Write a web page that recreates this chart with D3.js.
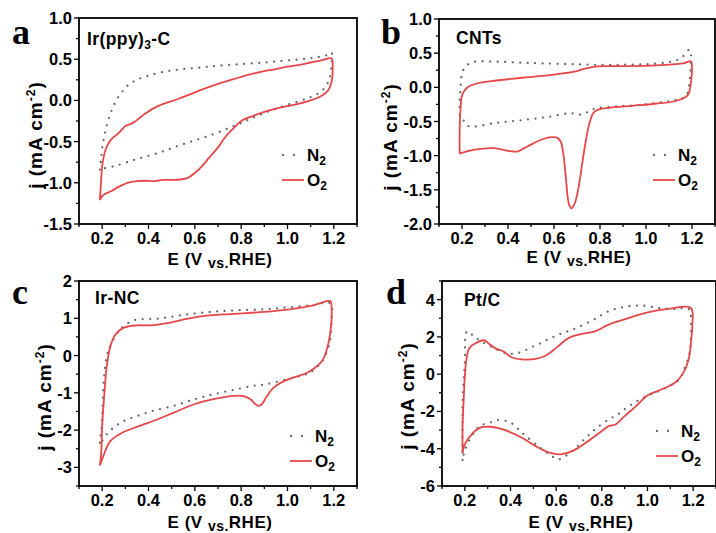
<!DOCTYPE html>
<html><head><meta charset="utf-8">
<script src="https://cdn.jsdelivr.net/npm/d3@7"></script>
<style>body{margin:0;background:#fff}svg{display:block}</style>
</head><body><svg id="c" width="716" height="533"></svg>
<script>
// ---------- data (E in V vs RHE, j in mA cm^-2) ----------
const panelLetters = ["a","b","c","d"];
const panelTitles = ["Ir(ppy)3-C","CNTs","Ir-NC","Pt/C"];
const seriesNames = ["N2","O2"];
const xTicks = [0.2,0.4,0.6,0.8,1.0,1.2];
const yTicksA = [-1.5,-1.0,-0.5,0.0,0.5,1.0];
const yTicksB = [-2.0,-1.5,-1.0,-0.5,0.0,0.5,1.0];
const yTicksC = [-3,-2,-1,0,1,2];
const yTicksD = [-6,-4,-2,0,2,4];

// panel a
const aN2E = [0.19,0.195,0.20,0.21,0.225,0.25,0.28,0.31,0.35,0.40,0.47,0.55,0.63,0.70,0.80,0.90,0.98,1.06,1.12,1.17,1.19,1.19,1.18,1.15,1.10,1.06,0.96,0.86,0.77,0.66,0.54,0.44,0.34,0.25,0.20,0.19];
const aN2J = [-0.84,-0.72,-0.58,-0.42,-0.25,-0.06,0.08,0.18,0.25,0.30,0.35,0.38,0.40,0.42,0.44,0.46,0.48,0.50,0.52,0.55,0.58,0.45,0.25,0.12,0.04,0.00,-0.09,-0.20,-0.31,-0.43,-0.54,-0.64,-0.72,-0.80,-0.83,-0.84];
const aO2E = [0.19,0.195,0.20,0.21,0.22,0.24,0.27,0.30,0.31,0.335,0.38,0.44,0.53,0.63,0.70,0.77,0.83,0.89,0.95,1.00,1.05,1.10,1.15,1.19,1.195,1.19,1.175,1.15,1.10,1.05,1.00,0.95,0.90,0.85,0.80,0.77,0.73,0.70,0.66,0.63,0.60,0.57,0.54,0.50,0.46,0.42,0.39,0.35,0.31,0.27,0.24,0.21,0.195,0.19];
const aO2J = [-1.21,-1.00,-0.80,-0.64,-0.56,-0.47,-0.40,-0.31,-0.30,-0.27,-0.17,-0.07,0.02,0.13,0.20,0.26,0.31,0.35,0.38,0.41,0.43,0.46,0.49,0.51,0.40,0.22,0.12,0.06,0.00,-0.04,-0.07,-0.10,-0.14,-0.19,-0.25,-0.33,-0.45,-0.57,-0.70,-0.80,-0.88,-0.94,-0.96,-0.965,-0.965,-0.98,-0.975,-0.98,-1.00,-1.05,-1.10,-1.14,-1.18,-1.21];

// panel b
const bN2E = [0.19,0.19,0.195,0.20,0.215,0.25,0.35,0.46,0.55,0.67,0.78,0.90,1.01,1.10,1.15,1.19,1.19,1.18,1.17,1.12,1.04,0.97,0.87,0.78,0.74,0.72,0.67,0.58,0.46,0.35,0.23,0.21,0.19];
const bN2J = [-0.40,-0.19,0.05,0.20,0.30,0.37,0.375,0.36,0.35,0.34,0.33,0.33,0.34,0.37,0.42,0.55,0.10,-0.09,-0.14,-0.19,-0.23,-0.26,-0.28,-0.31,-0.37,-0.40,-0.38,-0.43,-0.48,-0.52,-0.57,-0.50,-0.40];
const bO2E = [0.19,0.19,0.195,0.20,0.215,0.24,0.28,0.35,0.46,0.56,0.63,0.69,0.73,0.77,0.82,0.90,1.04,1.16,1.195,1.20,1.19,1.18,1.13,1.04,0.94,0.84,0.79,0.77,0.76,0.75,0.74,0.73,0.72,0.71,0.70,0.69,0.68,0.675,0.668,0.66,0.655,0.648,0.64,0.63,0.615,0.59,0.55,0.51,0.47,0.44,0.40,0.34,0.28,0.23,0.19];
const bO2J = [-0.97,-0.60,-0.25,-0.12,-0.03,0.03,0.07,0.10,0.14,0.17,0.20,0.23,0.27,0.30,0.31,0.31,0.32,0.35,0.38,0.30,-0.04,-0.12,-0.20,-0.24,-0.27,-0.30,-0.33,-0.38,-0.46,-0.58,-0.75,-0.95,-1.18,-1.40,-1.58,-1.70,-1.76,-1.77,-1.74,-1.62,-1.45,-1.20,-0.96,-0.80,-0.74,-0.73,-0.76,-0.82,-0.89,-0.94,-0.93,-0.89,-0.90,-0.93,-0.97];

// panel c
const cN2E = [0.19,0.20,0.204,0.21,0.22,0.235,0.25,0.265,0.29,0.34,0.44,0.54,0.65,0.77,0.90,1.00,1.11,1.185,1.19,1.18,1.15,1.10,1.06,1.00,0.91,0.855,0.77,0.68,0.60,0.51,0.42,0.366,0.31,0.26,0.22,0.20,0.19];
const cN2J = [-2.34,-1.70,-0.99,-0.46,-0.01,0.26,0.45,0.60,0.77,0.95,0.99,1.08,1.16,1.21,1.24,1.29,1.35,1.40,0.90,0.30,-0.15,-0.45,-0.54,-0.63,-0.77,-0.81,-0.92,-1.04,-1.17,-1.35,-1.48,-1.59,-1.71,-1.88,-2.11,-2.29,-2.34];
const cO2E = [0.19,0.196,0.20,0.21,0.22,0.236,0.258,0.294,0.35,0.41,0.48,0.57,0.65,0.77,0.90,1.00,1.10,1.185,1.19,1.185,1.17,1.15,1.12,1.085,1.03,0.98,0.94,0.91,0.89,0.876,0.86,0.84,0.81,0.77,0.68,0.60,0.51,0.44,0.365,0.29,0.236,0.20,0.19];
const cO2J = [-2.95,-2.60,-1.88,-0.99,-0.28,0.26,0.57,0.75,0.81,0.81,0.87,0.99,1.07,1.12,1.17,1.23,1.33,1.46,1.30,0.62,0.17,-0.14,-0.32,-0.46,-0.58,-0.70,-0.86,-1.10,-1.30,-1.35,-1.30,-1.17,-1.09,-1.08,-1.17,-1.30,-1.53,-1.71,-1.88,-2.06,-2.29,-2.78,-2.95];

// panel d
const dN2E = [0.19,0.19,0.19,0.19,0.195,0.20,0.21,0.236,0.27,0.32,0.367,0.42,0.51,0.60,0.67,0.76,0.83,0.90,0.975,1.05,1.12,1.18,1.19,1.185,1.16,1.14,1.10,1.05,0.98,0.92,0.87,0.83,0.77,0.73,0.67,0.61,0.57,0.53,0.45,0.40,0.35,0.31,0.265,0.23,0.20,0.19];
const dN2J = [-4.6,-3.5,-2.6,-1.5,-0.4,0.6,2.3,2.07,1.77,1.45,1.18,1.10,1.54,2.07,2.39,2.89,3.38,3.61,3.68,3.55,3.50,3.50,2.30,1.14,0.25,-0.29,-0.60,-0.91,-1.27,-1.71,-2.16,-2.43,-2.96,-3.41,-4.12,-4.57,-4.30,-3.95,-3.14,-2.60,-2.46,-2.60,-2.79,-3.32,-4.10,-4.60];
const dO2E = [0.19,0.19,0.195,0.20,0.207,0.22,0.25,0.284,0.31,0.338,0.367,0.41,0.45,0.51,0.555,0.60,0.656,0.714,0.77,0.83,0.92,1.00,1.09,1.19,1.196,1.19,1.18,1.157,1.12,1.06,1.00,0.95,0.90,0.86,0.83,0.79,0.73,0.67,0.62,0.57,0.51,0.45,0.367,0.31,0.265,0.23,0.20,0.19];
const dO2J = [-4.21,-2.79,-1.36,-0.10,0.79,1.41,1.68,1.82,1.59,1.36,1.23,0.88,0.79,0.82,1.00,1.41,1.95,2.16,2.30,2.66,3.02,3.32,3.50,3.55,2.57,1.68,0.79,0.07,-0.46,-0.82,-1.14,-1.71,-2.25,-2.70,-2.79,-3.14,-3.68,-4.13,-4.30,-4.21,-3.86,-3.41,-2.96,-2.82,-2.88,-3.23,-3.77,-4.21];

// ---------- layout ----------
const panels = [
  {letter:0, E:[aN2E,aO2E], J:[aN2J,aO2J], yDom:[-1.5,1.0], yTicks:yTicksA, yMinor:0.25, yFmt:".1f",
   box:[79,357,18,224], letterPos:[12,44], titlePos:[87,45], leg:[282,155], yTitle:[42,135], xTitleY:265},
  {letter:1, E:[bN2E,bO2E], J:[bN2J,bO2J], yDom:[-2.0,1.0], yTicks:yTicksB, yMinor:0.25, yFmt:".1f",
   box:[439,715,19,224], letterPos:[381,44], titlePos:[456,44], leg:[653,155], yTitle:[397,137], xTitleY:263},
  {letter:2, E:[cN2E,cO2E], J:[cN2J,cO2J], yDom:[-3.5,2], yTicks:yTicksC, yMinor:0.5, yFmt:"d",
   box:[79,357,281,486], letterPos:[12,304], titlePos:[95,304], leg:[290,436], yTitle:[51,397], xTitleY:528},
  {letter:3, E:[dN2E,dO2E], J:[dN2J,dO2J], yDom:[-6,5], yTicks:yTicksD, yMinor:1, yFmt:"d",
   box:[442,716,281,486], letterPos:[386,304], titlePos:[464,306], leg:[656,431], yTitle:[414,396], xTitleY:528}
];

const svg = d3.select("#c");
const RED = "#e8474a", GRAY = "#666";
const FONT = "'Liberation Sans', Arial, sans-serif";

panels.forEach(p => {
  const [x0,x1,y0,y1] = p.box;
  const x = d3.scaleLinear().domain([0.1,1.3]).range([x0,x1]);
  const y = d3.scaleLinear().domain(p.yDom).range([y1,y0]);
  const g = svg.append("g");

  const fmtNum = v => d3.format(p.yFmt)(v).replace("−","-");
  // y axis ticks (major + minor)
  const yMinorTicks = d3.range(p.yDom[0], p.yDom[1]+1e-9, p.yMinor);
  yMinorTicks.forEach(v=>{
    const major = p.yTicks.some(t=>Math.abs(t-v)<1e-9);
    g.append("line").attr("x1",x0).attr("x2",x0-(major?5:3)).attr("y1",y(v)).attr("y2",y(v))
      .attr("stroke","#000").attr("stroke-width",1.3);
  });
  p.yTicks.forEach(v=>{
    g.append("text").attr("x",x0-7).attr("y",y(v)+6).attr("text-anchor","end")
      .attr("font-family",FONT).attr("font-weight","bold").attr("font-size",16.5)
      .text(fmtNum(v));
  });
  // x axis
  const xMinor = d3.range(0.1,1.3001,0.1);
  xMinor.forEach(v=>{
    const major = xTicks.some(t=>Math.abs(t-v)<1e-9);
    g.append("line").attr("y1",y1).attr("y2",y1+(major?5:3)).attr("x1",x(v)).attr("x2",x(v))
      .attr("stroke","#000").attr("stroke-width",1.3);
  });
  xTicks.forEach(v=>{
    g.append("text").attr("x",x(v)).attr("y",y1+20).attr("text-anchor","middle")
      .attr("font-family",FONT).attr("font-weight","bold").attr("font-size",16.5)
      .text(d3.format(".1f")(v));
  });
  // frame
  g.append("rect").attr("x",x0).attr("y",y0).attr("width",x1-x0).attr("height",y1-y0)
    .attr("fill","none").attr("stroke","#000").attr("stroke-width",1.8);

  // curves
  const line = d3.line().curve(d3.curveCatmullRom.alpha(0.5)).x(d=>x(d[0])).y(d=>y(d[1]));
  const n2 = p.E[0].map((e,i)=>[e,p.J[0][i]]);
  const o2 = p.E[1].map((e,i)=>[e,p.J[1][i]]);
  g.append("path").attr("d",line(n2)).attr("fill","none").attr("stroke",GRAY)
    .attr("stroke-width",2.3).attr("stroke-linecap","round").attr("stroke-dasharray","0 7.5");
  g.append("path").attr("d",line(o2)).attr("fill","none").attr("stroke",RED)
    .attr("stroke-width",1.8);

  // letter
  svg.append("text").attr("x",p.letterPos[0]).attr("y",p.letterPos[1])
    .attr("font-family","'Liberation Serif','Times New Roman',serif").attr("font-weight","bold")
    .attr("font-size",36).text(panelLetters[p.letter]);
  // title
  const t = svg.append("text").attr("x",p.titlePos[0]).attr("y",p.titlePos[1])
    .attr("font-family",FONT).attr("font-weight","bold").attr("font-size",17.5).attr("letter-spacing",0.4);
  const title = panelTitles[p.letter];
  const m = title.match(/^(.*\))(\d)(.*)$/);
  if (m) {
    t.append("tspan").text(m[1]);
    t.append("tspan").attr("font-size",12).attr("dy",4).text(m[2]);
    t.append("tspan").attr("dy",-4).text(m[3]);
  } else t.text(title);

  // y title
  const yt = svg.append("text").attr("transform",`translate(${p.yTitle[0]},${p.yTitle[1]}) rotate(-90)`)
    .attr("text-anchor","middle").attr("font-family",FONT).attr("font-weight","bold").attr("font-size",19)
    .attr("letter-spacing",1);
  yt.append("tspan").text("j (mA cm");
  yt.append("tspan").attr("font-size",12).attr("dy",-7).text("-2");
  yt.append("tspan").attr("dy",7).text(")");
  // x title
  const xt = svg.append("text").attr("x",(x0+x1)/2 + 2).attr("y",p.xTitleY)
    .attr("text-anchor","middle").attr("font-family",FONT).attr("font-weight","bold").attr("font-size",17)
    .attr("letter-spacing",0.5);
  xt.append("tspan").text("E (V ");
  xt.append("tspan").attr("font-size",14).attr("dy",3).text("vs.");
  xt.append("tspan").attr("dy",-3).text("RHE)");

  // legend
  const [lx,ly] = p.leg;
  [0,1].forEach(i=>{
    const yy = ly + i*25;
    if (i===0) {
      g.append("line").attr("x1",lx+1).attr("x2",lx+13).attr("y1",yy).attr("y2",yy)
        .attr("stroke",GRAY).attr("stroke-width",2.3).attr("stroke-linecap","round").attr("stroke-dasharray","0 11");
    } else {
      g.append("line").attr("x1",lx).attr("x2",lx+22).attr("y1",yy).attr("y2",yy)
        .attr("stroke",RED).attr("stroke-width",1.8);
    }
    const lt = g.append("text").attr("x",lx+25).attr("y",yy+6)
      .attr("font-family",FONT).attr("font-weight","bold").attr("font-size",17);
    lt.append("tspan").text(seriesNames[i][0]);
    lt.append("tspan").attr("font-size",12).attr("dy",4).text(seriesNames[i][1]);
  });
});
</script></body></html>
